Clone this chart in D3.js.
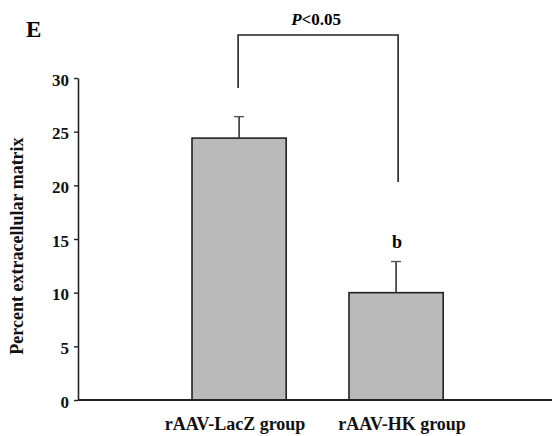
<html>
<script src='https://d3js.org/d3.v7.min.js'></script>
<style> body {margin:0; background:white;} text {font-family: 'Liberation Serif', 'Times New Roman', serif; font-weight: bold;} </style>
<body onload='init()'>
<svg width=552 height=436></svg>
<script>
// data
var groups = ["rAAV-LacZ group", "rAAV-HK group"];
var means = [24.4, 10.0];
var errors = [2.0, 2.9];
var marks = ["", "b"];
var yTicks = [0, 5, 10, 15, 20, 25, 30];
var pText = "<0.05";

function init() {
  var svg = d3.select("svg");

  var y = d3.scaleLinear()
            .domain([0, 30])
            .range([400, 78]);

  var x = d3.scaleBand()
            .domain(groups)
            .range([160.6, 474.6])
            .paddingInner(0.4)
            .paddingOuter(0.2);

  // bars
  svg.selectAll("rect.bar")
    .data(groups)
    .enter()
    .append("rect")
    .attr("class", "bar")
    .attr("x", function(d){ return x(d); })
    .attr("y", function(d,i){ return y(means[i]); })
    .attr("width", x.bandwidth())
    .attr("height", function(d,i){ return y(0) - y(means[i]); })
    .style("fill", "#bababa")
    .style("stroke", "#222")
    .style("stroke-width", 1.6);

  // error bars (upper only)
  var eb = svg.selectAll("g.err")
    .data(groups)
    .enter()
    .append("g")
    .attr("class", "err");
  eb.append("line")
    .attr("x1", function(d){ return x(d) + x.bandwidth()/2; })
    .attr("x2", function(d){ return x(d) + x.bandwidth()/2; })
    .attr("y1", function(d,i){ return y(means[i]); })
    .attr("y2", function(d,i){ return y(means[i] + errors[i]); })
    .style("stroke", "#333").style("stroke-width", 1.6);
  eb.append("line")
    .attr("x1", function(d){ return x(d) + x.bandwidth()/2 - 5; })
    .attr("x2", function(d){ return x(d) + x.bandwidth()/2 + 5; })
    .attr("y1", function(d,i){ return y(means[i] + errors[i]); })
    .attr("y2", function(d,i){ return y(means[i] + errors[i]); })
    .style("stroke", "#555").style("stroke-width", 1.4);

  // significance letters
  svg.selectAll("text.mark")
    .data(groups)
    .enter()
    .append("text")
    .attr("class", "mark")
    .attr("x", function(d){ return x(d) + x.bandwidth()/2 + 1; })
    .attr("y", function(d,i){ return y(means[i] + errors[i]) - 14; })
    .attr("text-anchor", "middle")
    .style("font-size", "18px")
    .text(function(d,i){ return marks[i]; });

  // y axis
  var y_axis = d3.axisLeft(y).tickValues(yTicks).tickSize(4).tickPadding(5).tickSizeOuter(0);
  var ya = svg.append("g").attr("transform", "translate(78,0)").call(y_axis);
  ya.select(".domain").style("stroke", "#222").style("stroke-width", 1.6);
  ya.selectAll(".tick line").style("stroke", "#222").style("stroke-width", 1.4);
  ya.selectAll(".tick text").style("font-size", "17px").style("fill", "#111")
    .attr("dy", "0.42em")
    .style("font-family", "'Liberation Serif', serif").style("font-weight", "bold");

  // x axis line
  svg.append("line")
    .attr("x1", 78).attr("x2", 552)
    .attr("y1", y(0)).attr("y2", y(0))
    .style("stroke", "#222").style("stroke-width", 1.8);

  // category labels
  svg.selectAll("text.cat")
    .data(groups)
    .enter()
    .append("text")
    .attr("class", "cat")
    .attr("x", function(d,i){ return x(d) + x.bandwidth()/2 + (i == 0 ? -4 : 6); })
    .attr("y", 430)
    .attr("text-anchor", "middle")
    .style("font-size", "18px")
    .style("fill", "#111")
    .text(function(d){ return d; });

  // y label
  svg.append("text")
    .attr("transform", "translate(23,246) rotate(-90)")
    .attr("text-anchor", "middle")
    .style("font-size", "18px")
    .style("fill", "#111")
    .text("Percent extracellular matrix");

  // panel letter
  svg.append("text")
    .attr("x", 26).attr("y", 37)
    .style("font-size", "23px")
    .text("E");

  // bracket
  var lx = x(groups[0]) + x.bandwidth()/2 - 1;
  var rx = x(groups[1]) + x.bandwidth()/2 + 2;
  var by = 35;
  svg.append("path")
    .attr("d", "M" + lx + "," + 88 + "V" + by + "H" + rx + "V" + 182)
    .style("fill", "none")
    .style("stroke", "#222")
    .style("stroke-width", 1.6);

  var pt = svg.append("text")
    .attr("x", (lx + rx)/2 - 2)
    .attr("y", 25)
    .attr("text-anchor", "middle")
    .style("font-size", "17px");
  pt.append("tspan").style("font-style", "italic").text("P");
  pt.append("tspan").text(pText);
}
</script>
</body>
</html>
